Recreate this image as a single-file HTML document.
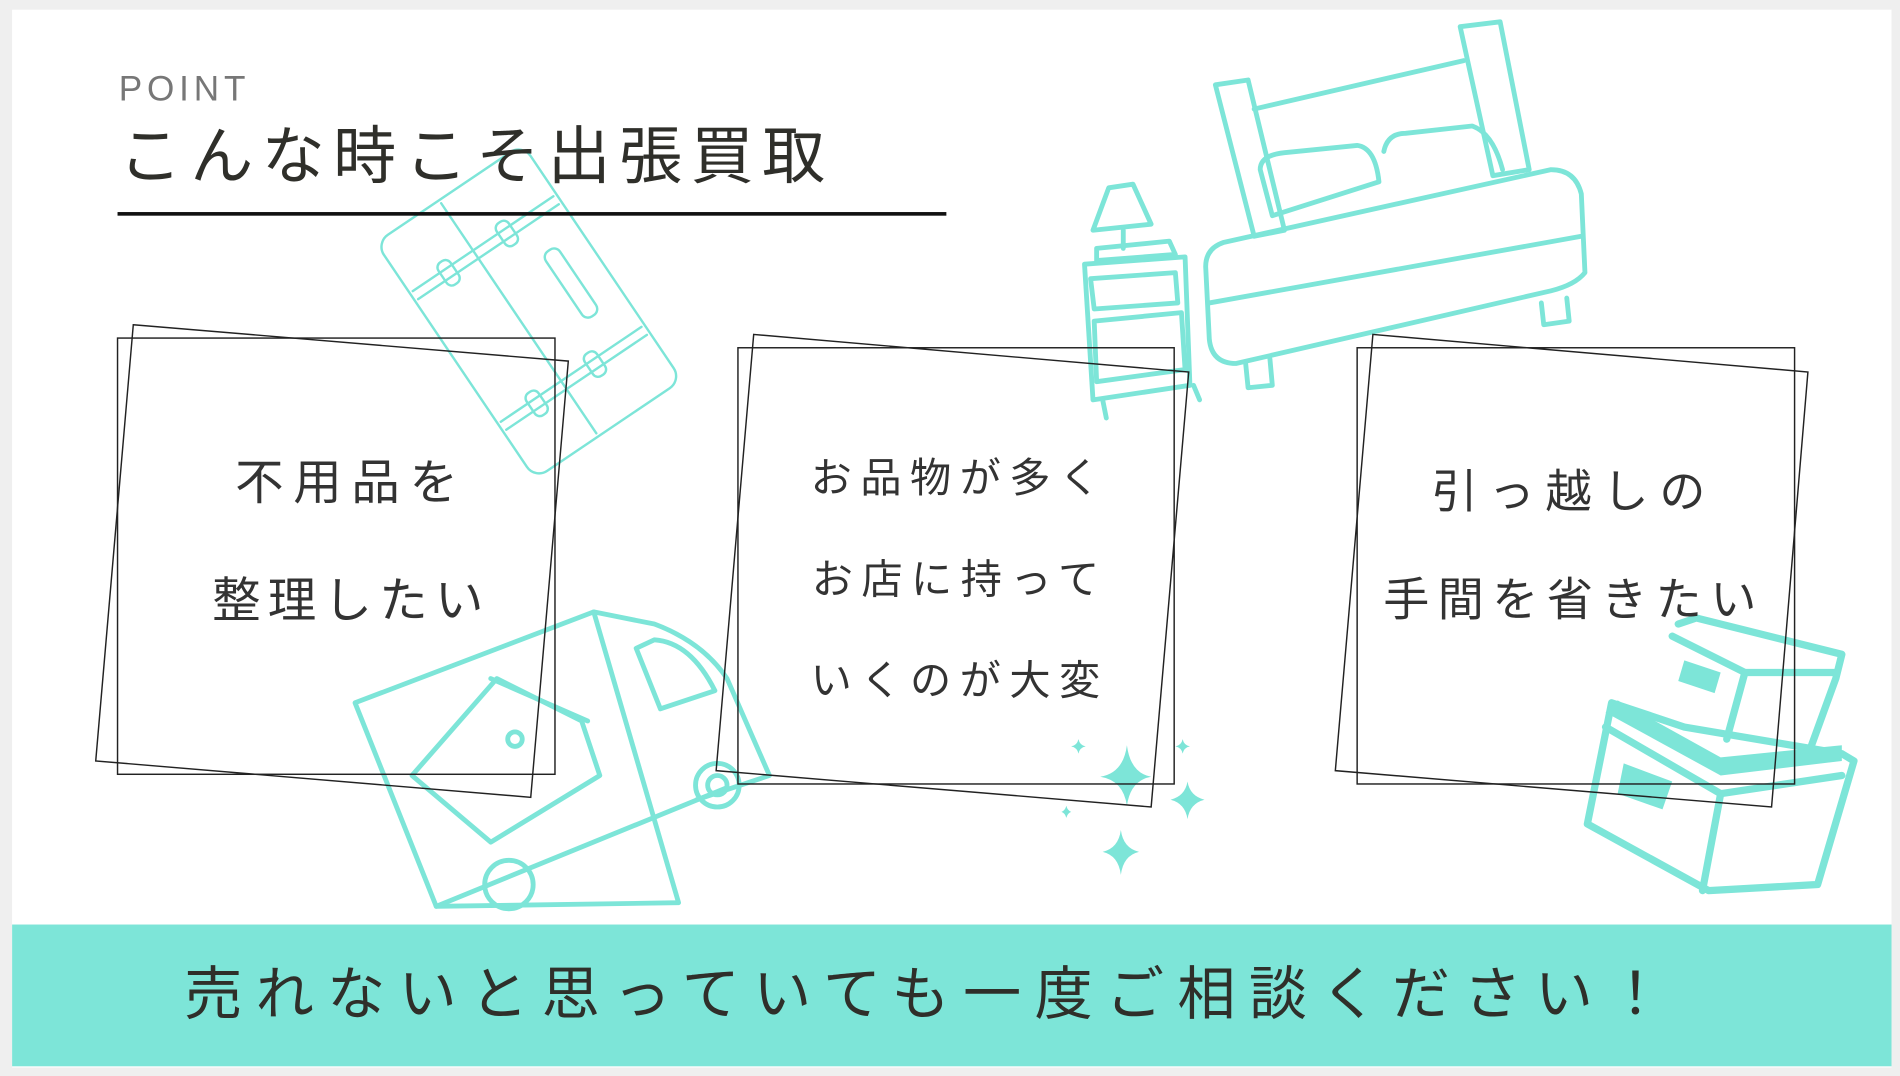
<!DOCTYPE html>
<html><head><meta charset="utf-8"><style>
html,body{margin:0;padding:0;background:#efefef;}
svg{display:block;}
text{font-family:"Liberation Sans","Noto Sans CJK JP",sans-serif;fill:#333;}
</style></head><body>
<svg width="1900" height="1076" viewBox="0 0 1568 888" preserveAspectRatio="none" xmlns="http://www.w3.org/2000/svg">
<rect x="0" y="0" width="1568" height="888" fill="#efefef"/>
<rect x="10" y="8" width="1551" height="873" fill="#fff"/>
<rect x="10" y="763" width="1551" height="117" fill="#7de5d8"/>

<g fill="none" stroke="#7de5d8" stroke-width="2" stroke-linecap="round" stroke-linejoin="round">
 <g transform="rotate(-34 435 255)">
  <rect x="362" y="140" width="146" height="235" rx="12"/>
  <line x1="425" y1="143" x2="425" y2="372"/>
  <line x1="365" y1="190" x2="505" y2="190"/><line x1="365" y1="198" x2="505" y2="198"/>
  <line x1="365" y1="320" x2="505" y2="320"/><line x1="365" y1="328" x2="505" y2="328"/>
  <rect x="392" y="183" width="12" height="22" rx="5"/><rect x="392" y="313" width="12" height="22" rx="5"/>
  <rect x="450" y="183" width="12" height="22" rx="5"/><rect x="450" y="313" width="12" height="22" rx="5"/>
  <rect x="470" y="225" width="14" height="65" rx="6"/>
 </g>
</g>
<g fill="none" stroke="#7de5d8" stroke-width="4" stroke-linecap="round" stroke-linejoin="round">
 <path d="M1003 70 L1030 66 L1060 190 L1035 195 Z"/>
 <path d="M1205 22 L1238 18 L1262 140 L1232 145 Z"/>
 <path d="M1035 90 L1208 50"/>
 <path d="M1040 140 Q1040 128 1060 126 L1120 120 Q1135 122 1138 150 L1050 178 Z"/>
 <path d="M1142 125 Q1145 110 1160 110 L1215 104 Q1232 110 1240 140"/>
 <path d="M1010 200 L1280 140 Q1300 140 1305 160 L1308 225 Q1300 235 1280 240 L1020 300 Q1000 300 998 280 L995 220 Q995 205 1010 200 Z"/>
 <path d="M998 250 L1305 195"/>
 <path d="M1028 300 L1030 320 L1050 318 L1048 296"/>
 <path d="M1272 250 L1274 268 L1295 265 L1293 246"/>
 <path d="M905 205 L965 199 L970 210 L905 215 Z"/>
 <path d="M895 218 L978 212 L982 318 L902 330 Z"/>
 <path d="M900 230 L970 225 L972 250 L903 255 Z"/>
 <path d="M903 265 L975 258 L978 305 L905 315 Z"/>
 <path d="M910 330 L913 345"/><path d="M985 318 L990 330"/>
 <path d="M915 155 L935 152 L950 185 L902 190 Z"/>
 <line x1="927" y1="190" x2="927" y2="205"/>
 <path d="M293 580 L490 505 L560 745 L360 748 Z"/>
 <path d="M490 505 L540 515 Q580 530 600 560 L635 640 L575 660"/>
 <path d="M525 535 L545 585 L590 570 Q570 530 540 528 Z"/>
 <path d="M360 748 L600 650"/>
 <circle cx="420" cy="730" r="20"/><circle cx="592" cy="648" r="18"/><circle cx="592" cy="648" r="8"/>
 <path d="M340 640 L410 560 L480 595 L495 640 L405 695 Z"/>
 <path d="M405 560 L485 595"/><circle cx="425" cy="610" r="6"/>
 <path d="M1330 580 L1390 600 L1520 622 L1530 628 L1500 730 L1410 735 L1310 680 Z" stroke-width="6"/>
 <path d="M1325 600 L1420 655 L1520 640" stroke-width="6"/>
 <path d="M1420 655 L1405 735" stroke-width="6"/>
 <path d="M1385 515 L1400 510 L1520 540 L1515 560 L1495 615" stroke-width="6"/>
 <path d="M1380 525 L1440 555 L1515 555" stroke-width="6"/>
 <path d="M1440 555 L1425 610" stroke-width="6"/>
</g>
<g fill="#7de5d8">
 <path d="M1325 588 L1420 640 L1520 628 L1520 615 L1420 625 L1335 578 Z"/>
 <path d="M1390 545 L1420 555 L1415 572 L1385 562 Z"/>
 <path d="M1340 630 L1380 645 L1372 668 L1335 655 Z"/>
 <path d="M930 615 Q933 638 950 641 Q933 644 930 665 Q927 644 908 641 Q927 638 930 615 Z"/>
 <path d="M980 645 Q982 657 994 660 Q982 663 980 676 Q978 663 966 660 Q978 657 980 645 Z"/>
 <path d="M925 685 Q927 700 940 703 Q927 706 925 722 Q923 706 910 703 Q923 700 925 685 Z"/>
 <path d="M890 610 Q891 615 896 616 Q891 617 890 622 Q889 617 884 616 Q889 615 890 610 Z"/>
 <path d="M976 610 Q977 615 982 616 Q977 617 976 622 Q975 617 970 616 Q975 615 976 610 Z"/>
 <path d="M880 665 Q881 669 884 670 Q881 671 880 675 Q879 671 876 670 Q879 669 880 665 Z"/>
</g>

<text x="98" y="83" font-size="29" letter-spacing="4" style="fill:#777">POINT</text>
<text x="98" y="147" font-size="52" letter-spacing="7" style="fill:#2f2f2a">こんな時こそ出張買取</text>
<rect x="97" y="175" width="684" height="3" fill="#111"/>

<g fill="none" stroke="#222" stroke-width="1.2">
 <rect x="97" y="279" width="361" height="360"/>
 <polygon points="110,268 469,298 438,658 79,628"/>
 <rect x="609" y="287" width="360" height="360"/>
 <polygon points="622,276 981,307 950,666 591,636"/>
 <rect x="1120" y="287" width="361" height="360"/>
 <polygon points="1133,276 1492,307 1462,666 1102,636"/>
</g>

<g text-anchor="middle">
 <text x="290" y="412" font-size="40" letter-spacing="8">不用品を</text>
 <text x="290" y="509" font-size="40" letter-spacing="6">整理したい</text>
 <text x="792" y="406" font-size="34" letter-spacing="7">お品物が多く</text>
 <text x="792" y="490" font-size="34" letter-spacing="7">お店に持って</text>
 <text x="792" y="573" font-size="34" letter-spacing="7">いくのが大変</text>
 <text x="1299" y="419" font-size="38" letter-spacing="9">引っ越しの</text>
 <text x="1299" y="508" font-size="38" letter-spacing="7">手間を省きたい</text>
</g>

<text x="152" y="837" font-size="48" letter-spacing="11" style="fill:#2f2f2a">売れないと思っていても一度ご相談ください！</text>
</svg>
</body></html>
